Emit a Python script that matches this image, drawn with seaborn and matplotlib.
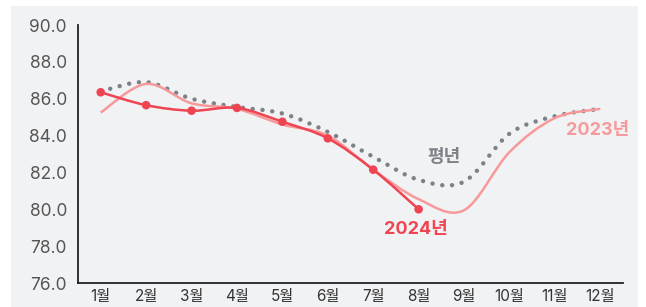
import numpy as np
import pandas as pd
import matplotlib
matplotlib.use("Agg")
import matplotlib.pyplot as plt
from matplotlib.path import Path
from matplotlib.patches import PathPatch, Rectangle
import seaborn as sns

months = ["1월", "2월", "3월", "4월", "5월", "6월", "7월", "8월", "9월", "10월", "11월", "12월"]
normal = [86.4, 86.9, 86.0, 85.55, 85.2, 84.2, 82.85, 81.6, 81.5, 84.1, 85.05, 85.45]
y2023 = [85.25, 86.8, 85.75, 85.45, 84.6, 84.0, 82.15, 80.55, 79.95, 83.1, 84.95, 85.45]
y2024 = [86.35, 85.65, 85.35, 85.5, 84.75, 83.85, 82.15, 80.0]
y_ticks = [76, 78, 80, 82, 84, 86, 88, 90]

RED = "#ef4452"
PINK = "#f7999b"
GRAY = "#7e8288"
BG = "#f1f2f4"


def smooth_path(xs, ys):
    # catmull-rom as cubic bezier segments, drawn by matplotlib
    pts = np.column_stack([xs, ys]).astype(float)
    verts = [pts[0]]
    codes = [Path.MOVETO]
    n = len(pts)
    for i in range(n - 1):
        p0 = pts[i - 1] if i > 0 else pts[i]
        p1 = pts[i]
        p2 = pts[i + 1]
        p3 = pts[i + 2] if i + 2 < n else pts[i + 1]
        c1 = p1 + (p2 - p0) / 6.0
        c2 = p2 - (p3 - p1) / 6.0
        verts += [c1, c2, p2]
        codes += [Path.CURVE4] * 3
    return Path(verts, codes)


sns.set_style("white")
plt.rcParams["font.family"] = ["Inter", "Noto Sans CJK KR", "DejaVu Sans"]

fig = plt.figure(figsize=(6.46, 3.07), dpi=100, facecolor="white")
panel = Rectangle((11 / 646, 0), 627 / 646, 1 - 6 / 307,
                  transform=fig.transFigure, facecolor=BG,
                  edgecolor="none", zorder=-10)
fig.add_artist(panel)
ax = fig.add_axes([78 / 646, 1 - 283 / 307, 545 / 646, 258 / 307])
ax.set_facecolor(BG)

x_all = np.arange(len(months))
x24 = np.arange(len(y2024))

ax.add_patch(PathPatch(smooth_path(x_all, normal), facecolor="none", edgecolor=GRAY,
                       lw=3.2, linestyle=(0, (0.01, 2.2)), capstyle="round", zorder=2))
ax.add_patch(PathPatch(smooth_path(x_all, y2023), facecolor="none", edgecolor=PINK,
                       lw=1.8, zorder=3))
ax.add_patch(PathPatch(smooth_path(x24, y2024), facecolor="none", edgecolor=RED,
                       lw=1.8, zorder=4))

df24 = pd.DataFrame({"x": x24, "v": y2024})
sns.scatterplot(data=df24, x="x", y="v", ax=ax, color=RED, s=38,
                edgecolor="none", zorder=5)

ax.set_xlim(-0.5, 11.5)
ax.set_ylim(76, 90)
ax.set_yticks(y_ticks)
ax.set_yticklabels([f"{t:.1f}" for t in y_ticks])
ax.set_xticks(np.arange(-0.5, 12, 1))
ax.set_xticklabels([])
ax.set_xticks(x_all, minor=True)
ax.set_xticklabels(months, minor=True)
ax.tick_params(axis="x", which="major", length=4, width=1.3, color="#222222", direction="out")
ax.tick_params(axis="x", which="minor", length=0, pad=4, labelsize=11, labelcolor="#333333")
ax.tick_params(axis="y", length=5, width=1.3, color="#222222", pad=3,
               labelsize=12.5, labelcolor="#555555")
ax.set_xlabel("")
ax.set_ylabel("")

for side in ["top", "right"]:
    ax.spines[side].set_visible(False)
for side in ["left", "bottom"]:
    ax.spines[side].set_color("#222222")
    ax.spines[side].set_linewidth(1.3)

ax.text(7.56, 82.8, "평년", color=GRAY, fontsize=13, fontweight="bold",
        ha="center", va="center", zorder=6)
ax.text(6.95, 78.9, "2024년", color=RED, fontsize=13, fontweight="bold",
        ha="center", va="center", zorder=6)
ax.text(10.95, 84.3, "2023년", color=PINK, fontsize=13, fontweight="bold",
        ha="center", va="center", zorder=6)

fig.savefig("out.png", dpi=100, facecolor="white")
